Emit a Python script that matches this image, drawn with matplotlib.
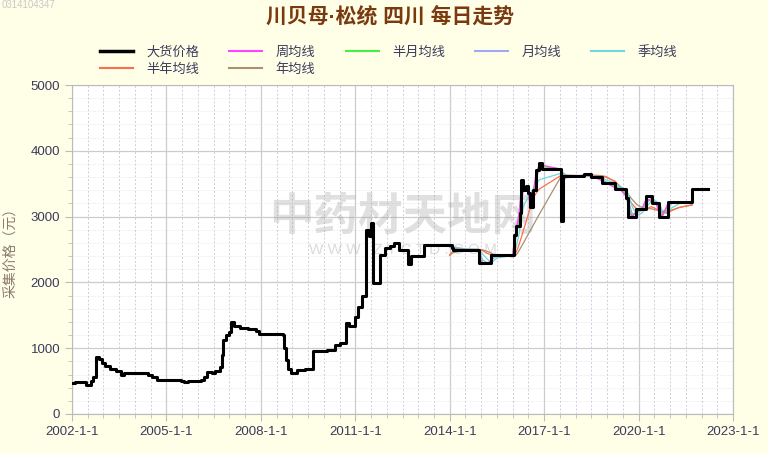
import matplotlib
matplotlib.use("Agg")
import matplotlib.pyplot as plt
from matplotlib.ticker import MultipleLocator, FixedLocator

plt.rcParams['font.family'] = ['Liberation Sans', 'Noto Sans CJK SC', 'DejaVu Sans']

# 大货价格 (year, price) - step series
price = [
    (2002.00, 470), (2002.10, 490), (2002.45, 440), (2002.60, 500), (2002.68, 560),
    (2002.75, 860), (2002.85, 830), (2002.95, 780), (2003.05, 730), (2003.20, 690),
    (2003.40, 650), (2003.55, 600), (2003.65, 630), (2004.10, 620), (2004.40, 600),
    (2004.55, 560), (2004.70, 520), (2005.45, 500), (2005.55, 480), (2005.70, 500),
    (2006.10, 520), (2006.20, 560), (2006.30, 640), (2006.45, 620), (2006.55, 660),
    (2006.70, 720), (2006.75, 900), (2006.80, 1130), (2006.90, 1200), (2007.00, 1250),
    (2007.05, 1400), (2007.15, 1340), (2007.35, 1310), (2007.60, 1290), (2007.85, 1260),
    (2007.95, 1220), (2008.70, 1200), (2008.75, 1000), (2008.80, 820), (2008.85, 680),
    (2008.95, 620), (2009.15, 670), (2009.40, 690), (2009.67, 950), (2010.10, 970),
    (2010.36, 1050), (2010.50, 1080), (2010.72, 1380), (2010.80, 1330), (2011.00, 1480),
    (2011.10, 1630), (2011.20, 1800), (2011.35, 2800), (2011.42, 2700), (2011.50, 2900),
    (2011.56, 1990), (2011.80, 2420), (2011.95, 2520), (2012.10, 2560), (2012.22, 2600),
    (2012.40, 2500), (2012.68, 2280), (2012.78, 2400), (2013.17, 2570), (2014.07, 2520),
    (2014.12, 2500), (2014.92, 2290), (2015.30, 2410), (2016.03, 2720), (2016.12, 2850),
    (2016.22, 3050), (2016.27, 3560), (2016.32, 3400), (2016.42, 3460), (2016.50, 3360),
    (2016.55, 3150), (2016.65, 3400), (2016.75, 3710), (2016.85, 3810), (2016.92, 3720),
    (2017.55, 2930), (2017.60, 3610), (2018.27, 3640), (2018.50, 3600), (2018.85, 3515),
    (2019.25, 3420), (2019.60, 3280), (2019.66, 3000), (2019.93, 3110), (2020.25, 3310),
    (2020.42, 3210), (2020.65, 3000), (2020.92, 3220), (2021.70, 3420), (2022.20, 3420),
]

# moving averages, shared x positions
ma_x = [
    2014.00, 2014.10, 2014.50, 2014.90, 2014.97,
    2015.05, 2015.20, 2015.30, 2015.38, 2015.50,
    2016.00, 2016.05, 2016.12, 2016.20, 2016.28,
    2016.36, 2016.45, 2016.55, 2016.65, 2016.75,
    2016.85, 2017.55, 2017.62, 2017.75, 2018.00,
    2018.30, 2018.60, 2018.85, 2018.95, 2019.25,
    2019.40, 2019.62, 2019.70, 2019.80, 2019.95,
    2020.10, 2020.25, 2020.40, 2020.55, 2020.65,
    2020.75, 2020.92, 2021.05, 2021.30, 2021.70,
]
ma_week = [
    2560, 2510, 2500, 2500, 2340,
    2290, 2290, 2330, 2410, 2410,
    2410, 2650, 2830, 3020, 3450,
    3430, 3450, 3200, 3360, 3680,
    3790, 3720, 3560, 3610, 3610,
    3635, 3600, 3540, 3515, 3440,
    3420, 3300, 3060, 3000, 3090,
    3110, 3280, 3230, 3210, 3060,
    3000, 3190, 3220, 3220, 3220,
]
ma_halfmonth = [
    2550, 2520, 2500, 2500, 2380,
    2300, 2290, 2310, 2390, 2410,
    2410, 2600, 2800, 2990, 3380,
    3450, 3440, 3250, 3330, 3640,
    3770, 3720, 3600, 3600, 3610,
    3630, 3605, 3555, 3520, 3460,
    3420, 3320, 3120, 3010, 3070,
    3110, 3250, 3260, 3210, 3110,
    3010, 3150, 3215, 3220, 3220,
]
ma_month = [
    2540, 2530, 2500, 2500, 2440,
    2340, 2295, 2300, 2360, 2405,
    2410, 2520, 2730, 2920, 3250,
    3430, 3430, 3320, 3300, 3560,
    3740, 3720, 3640, 3590, 3610,
    3625, 3610, 3570, 3530, 3480,
    3425, 3360, 3200, 3040, 3050,
    3100, 3200, 3280, 3220, 3160,
    3040, 3100, 3200, 3220, 3220,
]
ma_quarter = [
    2530, 2540, 2510, 2500, 2480,
    2430, 2350, 2310, 2320, 2370,
    2410, 2450, 2560, 2720, 3060,
    3180, 3260, 3340, 3420, 3500,
    3560, 3660, 3660, 3620, 3610,
    3620, 3615, 3590, 3560, 3510,
    3460, 3410, 3300, 3150, 3020,
    3050, 3150, 3230, 3240, 3200,
    3100, 3060, 3130, 3200, 3210,
]
ma_halfyear = [
    2420, 2470, 2500, 2500, 2495,
    2480, 2440, 2420, 2400, 2390,
    2400, 2410, 2470, 2570, 2690,
    2820, 2960, 3120, 3280, 3360,
    3420, 3630, 3630, 3620, 3615,
    3620, 3620, 3610, 3600, 3540,
    3450, 3320, 3250, 3190, 3110,
    3090, 3120, 3150, 3120, 3090,
    3060, 3050, 3090, 3140, 3180,
]
ma_year = [
    2410, 2450, 2490, 2500, 2500,
    2495, 2470, 2450, 2430, 2410,
    2390, 2395, 2420, 2480, 2547,
    2616, 2694, 2780, 2866, 2953,
    3039, 3620, 3630, 3630, 3625,
    3625, 3630, 3620, 3610, 3530,
    3470, 3360, 3320, 3260, 3180,
    3140, 3120, 3120, 3100, 3090,
    3080, 3070, 3100, 3140, 3175,
]

x_ticks = [2002, 2005, 2008, 2011, 2014, 2017, 2020, 2023]
x_labels = [f"{y}-1-1" for y in x_ticks]

fig = plt.figure(figsize=(7.68, 4.54), dpi=100, facecolor='#FFFFE8')
ax = fig.add_axes([72 / 768, 40 / 454, 661 / 768, 329 / 454])
ax.set_facecolor('white')

# watermark
ax.text(0.5, 0.6, '中药材天地网', transform=ax.transAxes, ha='center', va='center',
        fontsize=32, color='#999999', alpha=0.3, fontweight='bold', zorder=1,
        family=['Noto Sans CJK SC'])
ax.text(0.5, 0.5, 'W W W . Z Y C T D . C O M', transform=ax.transAxes, ha='center',
        va='center', fontsize=11, color='#999999', alpha=0.35, zorder=1)

ma_series = [
    (ma_year, '#A89070', '年均线'),
    (ma_halfyear, '#FF6E4A', '半年均线'),
    (ma_quarter, '#6FD8D8', '季均线'),
    (ma_month, '#9FA8F0', '月均线'),
    (ma_halfmonth, '#44EE44', '半月均线'),
    (ma_week, '#FF44FF', '周均线'),
]
handles = {}
for vals, col, name in ma_series:
    handles[name], = ax.plot(ma_x, vals, color=col, lw=0.9, label=name, zorder=3)

px = [p[0] for p in price]
py = [p[1] for p in price]
handles['大货价格'], = ax.plot(px, py, color='black', lw=2.2, drawstyle='steps-post',
                            label='大货价格', zorder=4)

ax.set_xlim(2002, 2023)
ax.set_ylim(0, 5000)
ax.xaxis.set_major_locator(FixedLocator(x_ticks))
ax.set_xticklabels(x_labels)
ax.xaxis.set_minor_locator(MultipleLocator(0.5))
ax.yaxis.set_major_locator(MultipleLocator(1000))
ax.yaxis.set_minor_locator(MultipleLocator(200))

ax.grid(which='major', color='#CCCCCC', lw=0.9, ls='-')
ax.grid(which='minor', axis='x', color='#D8C8E0', lw=0.7, ls=(0, (2, 2)))
ax.grid(which='minor', axis='y', color='#E4E4E4', lw=0.5, ls=(0, (2, 2)))
ax.set_axisbelow(True)

for s in ax.spines.values():
    s.set_color('#BBBBBB')
ax.tick_params(which='major', length=5, color='#BBBBBB', labelsize=9.5,
               labelcolor='#3A3A5C')
ax.tick_params(which='minor', length=3, color='#BBBBBB')

ax.set_ylabel('采集价格（元）', color='#8A7A6A', fontsize=10, labelpad=10,
              family=['Noto Sans CJK SC'])

fig.text(0.508, 0.965, '川贝母·松统 四川 每日走势', ha='center', va='center',
         fontsize=15, fontweight='bold', color='#7A3A10',
         family=['Liberation Sans', 'Noto Sans CJK SC'])
fig.text(0.002, 0.988, '0314104347', ha='left', va='center', fontsize=7, color='#C8C8C8')

order = ['大货价格', '半年均线', '周均线', '年均线', '半月均线', '月均线', '季均线']
leg = fig.legend([handles[k] for k in order], order, ncol=5, loc='center',
                 bbox_to_anchor=(0.506, 0.866), frameon=False, fontsize=9.5,
                 handlelength=2.5, handletextpad=1.0, columnspacing=2.3,
                 labelspacing=0.3)
for t in leg.get_texts():
    t.set_color('#3A3A5C')
for h in leg.legend_handles:
    h.set_linewidth(1.5)
leg.legend_handles[0].set_linewidth(2.5)

fig.savefig('out.png', dpi=100, facecolor=fig.get_facecolor())
